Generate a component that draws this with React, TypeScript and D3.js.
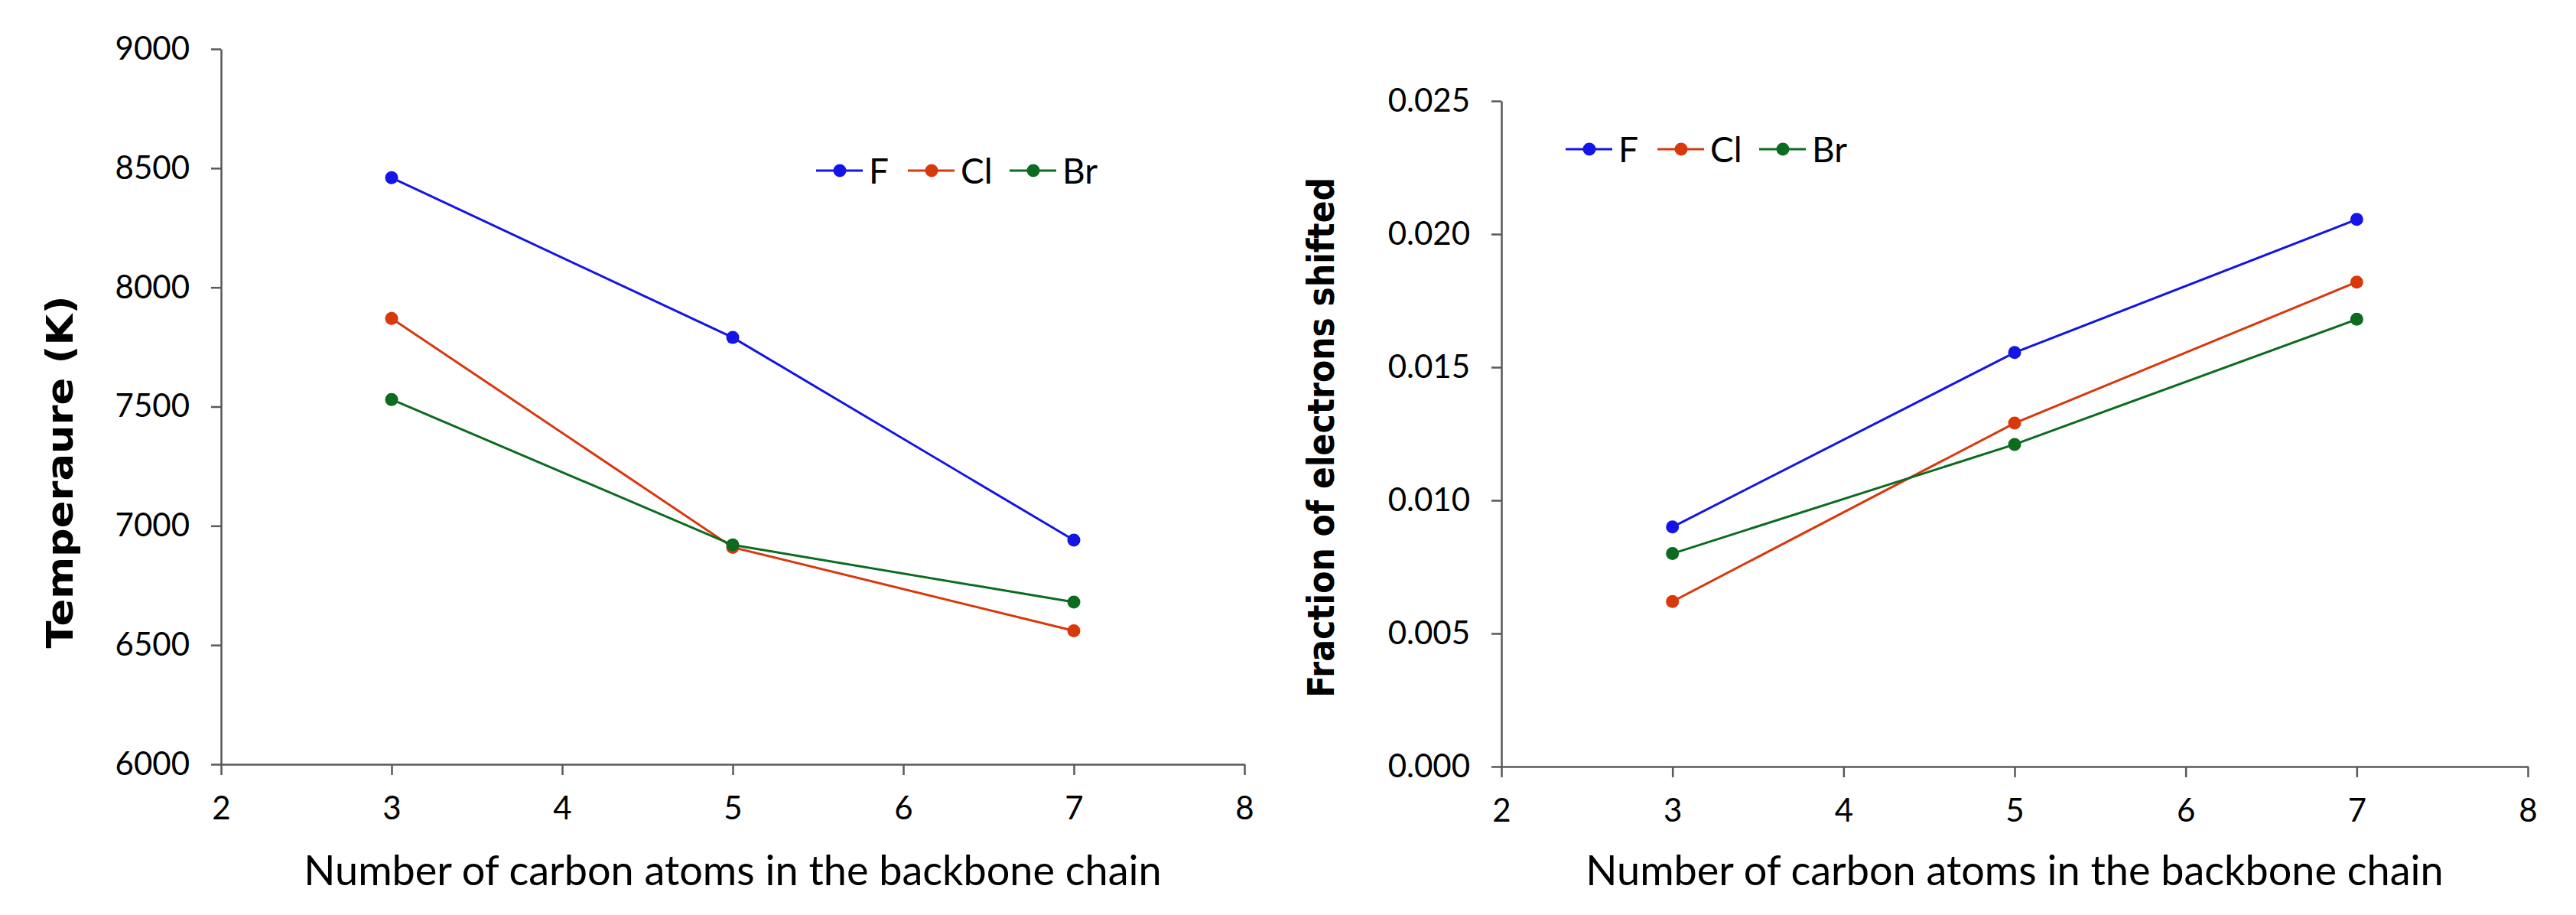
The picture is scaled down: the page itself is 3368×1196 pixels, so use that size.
import * as d3 from 'd3';
import { useEffect, useRef } from 'react';

// x values (number of carbon atoms)
const carbonAtoms = [3, 5, 7];
const xTicks = [2, 3, 4, 5, 6, 7, 8];

// left panel: temperature (K)
const tempF = [8460, 7790, 6940];
const tempCl = [7870, 6910, 6560];
const tempBr = [7530, 6920, 6680];
const tempTicks = [6000, 6500, 7000, 7500, 8000, 8500, 9000];

// right panel: fraction of electrons shifted
const fracF = [0.009, 0.01555, 0.02055];
const fracCl = [0.0062, 0.0129, 0.0182];
const fracBr = [0.008, 0.0121, 0.0168];
const fracTicks = [0, 0.005, 0.01, 0.015, 0.02, 0.025];

const seriesNames = ['F', 'Cl', 'Br'];
const seriesColors = ['#1414e6', '#d8380c', '#0b6b21'];

const W = 3368;
const H = 1196;
const AXIS = '#595959';
const TICK_FONT = 'Lato, "Open Sans", sans-serif';
const TITLE_FONT = '"DejaVu Sans", "Open Sans", sans-serif';

interface PanelCfg {
  left: number;
  right: number;
  top: number;
  bottom: number;
  series: number[][];
  yTicks: number[];
  yFormat: (d: number) => string;
  yTitle: string;
  yTitleX: number;
  yTitleY: number;
  yTitleLen: number;
  legendX: number;
  legendY: number;
}

const App = () => {
  const svgRef = useRef<SVGSVGElement>(null);

  useEffect(() => {
    if (!svgRef.current) return;
    const svg = d3.select(svgRef.current);
    svg.selectAll('*').remove();

    const panels: PanelCfg[] = [
      {
        left: 289,
        right: 1627,
        top: 64,
        bottom: 999,
        series: [tempF, tempCl, tempBr],
        yTicks: tempTicks,
        yFormat: (d) => `${d}`,
        yTitle: 'Temperaure (K)',
        yTitleX: 95,
        yTitleY: 617,
        yTitleLen: 461,
        legendX: 1067,
        legendY: 223,
      },
      {
        left: 1963,
        right: 3305,
        top: 132,
        bottom: 1002,
        series: [fracF, fracCl, fracBr],
        yTicks: fracTicks,
        yFormat: d3.format('.3f'),
        yTitle: 'Fraction of electrons shifted',
        yTitleX: 1744,
        yTitleY: 572,
        yTitleLen: 680,
        legendX: 2047,
        legendY: 195,
      },
    ];

    panels.forEach((p) => {
      const x = d3
        .scaleLinear()
        .domain([2, 8])
        .range([p.left, p.right]);
      const y = d3
        .scaleLinear()
        .domain([p.yTicks[0], p.yTicks[p.yTicks.length - 1]])
        .range([p.bottom, p.top]);

      // Y axis
      svg
        .append('g')
        .attr('transform', `translate(${p.left},0)`)
        .call(
          d3
            .axisLeft(y)
            .tickValues(p.yTicks)
            .tickSize(13)
            .tickSizeOuter(0)
            .tickPadding(28)
            .tickFormat((d) => p.yFormat(d as number)),
        )
        .call((a) => a.select('.domain').attr('stroke', AXIS).attr('stroke-width', 2.5))
        .call((a) => a.selectAll('.tick line').attr('stroke', AXIS).attr('stroke-width', 2.5))
        .call((a) =>
          a
            .selectAll('.tick text')
            .attr('fill', '#000')
            .attr('font-family', TICK_FONT)
            .attr('font-size', 42),
        );

      // X axis
      svg
        .append('g')
        .attr('transform', `translate(0,${p.bottom})`)
        .call(
          d3
            .axisBottom(x)
            .tickValues(xTicks)
            .tickSize(14)
            .tickSizeOuter(0)
            .tickPadding(28)
            .tickFormat((d) => `${d}`),
        )
        .call((a) => a.select('.domain').attr('stroke', AXIS).attr('stroke-width', 2.5))
        .call((a) => a.selectAll('.tick line').attr('stroke', AXIS).attr('stroke-width', 2.5))
        .call((a) =>
          a
            .selectAll('.tick text')
            .attr('fill', '#000')
            .attr('font-family', TICK_FONT)
            .attr('font-size', 42),
        );

      // X title
      svg
        .append('text')
        .attr('x', (p.left + p.right) / 2)
        .attr('y', 1157)
        .attr('text-anchor', 'middle')
        .attr('font-family', TICK_FONT)
        .attr('font-size', 54)
        .attr('fill', '#000')
        .text('Number of carbon atoms in the backbone chain');

      // Y title
      svg
        .append('text')
        .attr('transform', `translate(${p.yTitleX},${p.yTitleY}) rotate(-90)`)
        .attr('text-anchor', 'middle')
        .attr('font-family', TITLE_FONT)
        .attr('font-weight', 'bold')
        .attr('font-size', 48)
        .attr('textLength', p.yTitleLen)
        .attr('lengthAdjust', 'spacingAndGlyphs')
        .attr('fill', '#000')
        .text(p.yTitle);

      // Lines and markers
      const line = d3
        .line<number>()
        .x((_, i) => x(carbonAtoms[i]))
        .y((d) => y(d));

      p.series.forEach((vals, si) => {
        svg
          .append('path')
          .datum(vals)
          .attr('d', line)
          .attr('fill', 'none')
          .attr('stroke', seriesColors[si])
          .attr('stroke-width', 3);
        svg
          .append('g')
          .selectAll('circle')
          .data(vals)
          .join('circle')
          .attr('cx', (_, i) => x(carbonAtoms[i]))
          .attr('cy', (d) => y(d))
          .attr('r', 8.5)
          .attr('fill', seriesColors[si]);
      });

      // Legend
      const offsets = [0, 120, 253];
      seriesNames.forEach((name, si) => {
        const lx = p.legendX + offsets[si];
        const g = svg.append('g').attr('transform', `translate(${lx},${p.legendY})`);
        g.append('line')
          .attr('x1', 0)
          .attr('x2', 61)
          .attr('stroke', seriesColors[si])
          .attr('stroke-width', 3);
        g.append('circle').attr('cx', 31).attr('r', 8.5).attr('fill', seriesColors[si]);
        g.append('text')
          .attr('x', 69)
          .attr('dy', '0.36em')
          .attr('font-family', TICK_FONT)
          .attr('font-size', 46)
          .attr('fill', '#000')
          .text(name);
      });
    });
  }, []);

  return (
    <svg
      ref={svgRef}
      width={W}
      height={H}
      style={{ position: 'absolute', left: 0, top: 0, background: '#fff' }}
    />
  );
};

export default App;
